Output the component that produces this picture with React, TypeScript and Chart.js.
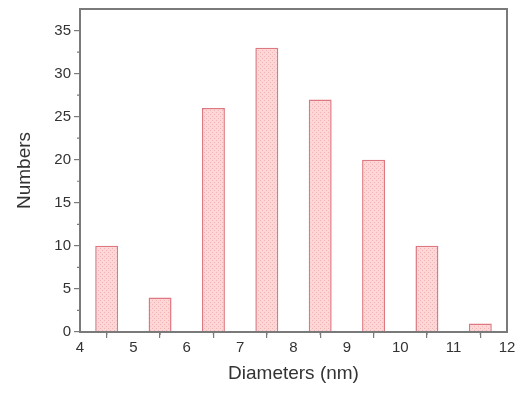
import React, { useEffect, useRef } from "react";
import { Chart, registerables } from "chart.js";

Chart.register(...registerables);

const diameters = [4.5, 5.5, 6.5, 7.5, 8.5, 9.5, 10.5, 11.5];
const counts = [10, 4, 26, 33, 27, 20, 10, 1];
const minorX = [4.5, 5.5, 6.5, 7.5, 8.5, 9.5, 10.5, 11.5];
const minorY = [2.5, 7.5, 12.5, 17.5, 22.5, 27.5, 32.5];

const AXIS = "#7a7a7a";
const TEXT = "#333333";

function makePattern(): CanvasPattern | string {
  const c = document.createElement("canvas");
  c.width = 4;
  c.height = 4;
  const g = c.getContext("2d");
  if (!g) return "rgb(255,210,210)";
  g.fillStyle = "rgb(255,214,214)";
  g.fillRect(0, 0, 4, 4);
  g.fillStyle = "rgb(240,180,182)";
  g.fillRect(0, 0, 1, 1);
  g.fillRect(2, 2, 1, 1);
  const p = g.createPattern(c, "repeat");
  return p || "rgb(255,210,210)";
}

const framePlugin = {
  id: "frameAndMinor",
  afterDraw(chart: any) {
    const { ctx, chartArea } = chart;
    const xs = chart.scales.x;
    const ys = chart.scales.y;
    ctx.save();
    ctx.strokeStyle = AXIS;
    ctx.lineWidth = 2;
    ctx.strokeRect(chartArea.left, chartArea.top, chartArea.right - chartArea.left, chartArea.bottom - chartArea.top);
    ctx.lineWidth = 1.2;
    ctx.beginPath();
    for (const v of minorX) {
      const px = xs.getPixelForValue(v);
      ctx.moveTo(px, chartArea.bottom);
      ctx.lineTo(px, chartArea.bottom + 3);
    }
    for (const v of minorY) {
      const py = ys.getPixelForValue(v);
      ctx.moveTo(chartArea.left, py);
      ctx.lineTo(chartArea.left - 3, py);
    }
    ctx.stroke();
    ctx.restore();
  },
};

export default function App() {
  const ref = useRef<HTMLCanvasElement>(null);
  useEffect(() => {
    if (!ref.current) return;
    const pattern = makePattern();
    const chart = new Chart(ref.current, {
      type: "bar",
      data: {
        datasets: [
          {
            data: diameters.map((d, i) => ({ x: d, y: counts[i] })),
            backgroundColor: pattern as any,
            borderColor: "rgb(222,120,128)",
            borderWidth: 1.5,
            barPercentage: 0.43,
            categoryPercentage: 1,
          },
        ],
      },
      options: {
        animation: false,
        responsive: true,
        maintainAspectRatio: false,
        layout: { padding: { top: 1, right: 8, left: 0, bottom: 0 } },
        plugins: { legend: { display: false }, tooltip: { enabled: false } },
        scales: {
          x: {
            type: "linear",
            min: 4,
            max: 12,
            offset: false,
            ticks: {
              stepSize: 1,
              color: TEXT,
              padding: 1,
              font: { family: "'Liberation Sans', Arial, sans-serif", size: 15 },
              maxRotation: 0,
            },
            grid: { display: true, drawOnChartArea: false, drawTicks: true, tickLength: 6, color: AXIS, lineWidth: 1.2 },
            border: { display: true, color: AXIS, width: 2 },
            title: {
              display: true,
              text: "Diameters (nm)",
              color: TEXT,
              padding: { top: 0, bottom: 0 },
              font: { family: "'Liberation Sans', Arial, sans-serif", size: 19 },
            },
            afterFit(scale: any) {
              scale.height = 53;
              scale.paddingLeft = 0;
              scale.paddingRight = 0;
            },
          },
          y: {
            min: 0,
            max: 37.5,
            ticks: {
              stepSize: 5,
              includeBounds: false,
              color: TEXT,
              padding: 3,
              font: { family: "'Liberation Sans', Arial, sans-serif", size: 15 },
            },
            grid: { display: true, drawOnChartArea: false, drawTicks: true, tickLength: 6, color: AXIS, lineWidth: 1.2 },
            border: { display: true, color: AXIS, width: 2 },
            title: {
              display: true,
              text: "Numbers",
              color: TEXT,
              padding: { top: 5, bottom: 0 },
              font: { family: "'Liberation Sans', Arial, sans-serif", size: 19 },
            },
            afterFit(scale: any) {
              scale.width = 72;
              scale.paddingTop = 0;
              scale.paddingBottom = 0;
            },
          },
        },
      } as any,
      plugins: [framePlugin],
    });
    return () => chart.destroy();
  }, []);
  return (
    <div style={{ width: 507, height: 377, position: "relative" }}>
      <canvas ref={ref} />
    </div>
  );
}
